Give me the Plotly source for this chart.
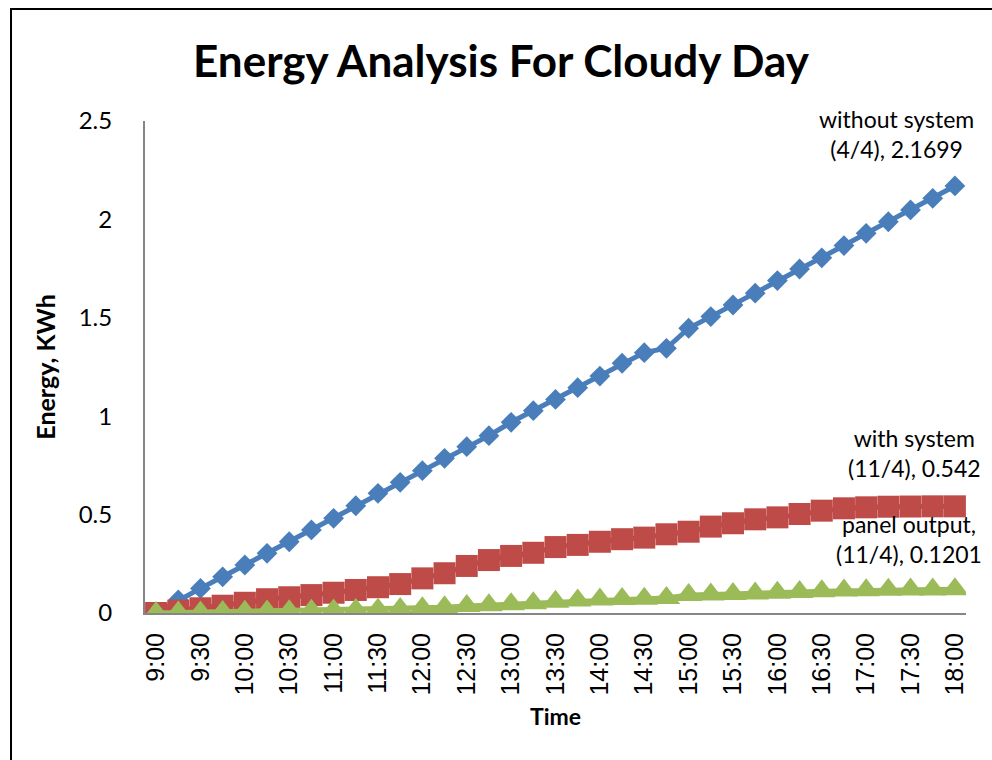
import plotly.graph_objects as go

# Time of day, 15-minute steps from 9:00 to 18:00
times = [f"{h}:{m:02d}" for h in range(9, 18) for m in (0, 15, 30, 45)] + ["18:00"]
tick_labels = [t for t in times if t.endswith(":00") or t.endswith(":30")]

# Cumulative energy, KWh
without_system = [0, 0.066, 0.125, 0.184, 0.244, 0.303, 0.362, 0.422, 0.481, 0.545,
                  0.608, 0.664, 0.723, 0.786, 0.845, 0.901, 0.969, 1.028, 1.085, 1.145,
                  1.204, 1.269, 1.323, 1.345, 1.447, 1.506, 1.565, 1.625, 1.689, 1.748,
                  1.805, 1.867, 1.929, 1.988, 2.048, 2.107, 2.1699]
with_system = [0, 0.012, 0.024, 0.037, 0.052, 0.070, 0.080, 0.091, 0.103, 0.117,
               0.131, 0.147, 0.176, 0.202, 0.239, 0.269, 0.290, 0.306, 0.335, 0.346,
               0.362, 0.375, 0.383, 0.400, 0.413, 0.439, 0.456, 0.476, 0.486, 0.503,
               0.520, 0.532, 0.537, 0.540, 0.541, 0.542, 0.542]
panel_output = [0, 0.002, 0.003, 0.005, 0.006, 0.008, 0.009, 0.011, 0.013, 0.015,
                0.017, 0.020, 0.024, 0.029, 0.035, 0.040, 0.045, 0.050, 0.057, 0.064,
                0.068, 0.071, 0.073, 0.076, 0.092, 0.094, 0.096, 0.099, 0.103, 0.107,
                0.111, 0.114, 0.116, 0.118, 0.119, 0.120, 0.1201]

series = [
    ("without system", "(4/4)", without_system, "#4A7EBB", "diamond", 16, -58, 21),
    ("with system", "(11/4)", with_system, "#BE4B48", "square", 22, -40, 22),
    ("panel output,", "(11/4)", panel_output, "#9BBB59", "triangle-up", 24, -46, 19),
]

FONT = "Lato"

fig = go.Figure()
annotations = []
for name, date, vals, color, symbol, msize, xs, ys in series:
    fig.add_trace(go.Scatter(
        x=times, y=vals, mode="lines+markers", name=name,
        line=dict(color=color, width=5),
        marker=dict(symbol=symbol, size=msize, color=color, line=dict(width=0)),
    ))
    annotations.append(dict(
        x=times[-1], y=vals[-1], xref="x", yref="y",
        text=f"{name}<br>{date}, {vals[-1]:g}", showarrow=False,
        xanchor="center", yanchor="bottom", xshift=xs, yshift=ys,
        align="center", font=dict(family=FONT, size=23, color="black"),
    ))

fig.update_layout(
    width=992, height=760,
    margin=dict(l=145, r=26, t=121, b=147),
    paper_bgcolor="white", plot_bgcolor="white",
    showlegend=False,
    title=dict(text="<b>Energy Analysis For Cloudy Day</b>", x=0.505, xanchor="center",
               y=1 - 62 / 760, yanchor="middle",
               font=dict(family=FONT, size=44, color="black")),
    annotations=annotations,
    shapes=[dict(type="rect", xref="paper", yref="paper",
                 x0=-0.1632, x1=1.05, y0=-0.33, y1=1.2276,
                 line=dict(color="black", width=2), fillcolor="rgba(0,0,0,0)", layer="below")],
)

fig.update_xaxes(
    type="category", categoryorder="array", categoryarray=times,
    range=[-0.5, len(times) - 0.5],
    tickmode="array", tickvals=tick_labels, ticktext=tick_labels,
    tickangle=-90, tickfont=dict(family="Liberation Sans", size=25, color="black"),
    ticks="", ticklabelstandoff=8,
    showline=True, linecolor="#868686", linewidth=2,
    showgrid=False, zeroline=False,
    title=dict(text="<b>Time</b>", font=dict(family=FONT, size=23, color="black"), standoff=14),
)
fig.update_yaxes(
    range=[0, 2.5], tickmode="array", tickvals=[0, 0.5, 1, 1.5, 2, 2.5],
    ticktext=["0", "0.5", "1", "1.5", "2", "2.5"],
    tickfont=dict(family=FONT, size=24, color="black"),
    ticks="", ticklabelstandoff=26,
    showline=True, linecolor="#868686", linewidth=2,
    showgrid=False, zeroline=False,
    title=dict(text="<b>Energy, KWh</b>", font=dict(family=FONT, size=25, color="black"), standoff=16),
)

fig.write_html("out.html")
